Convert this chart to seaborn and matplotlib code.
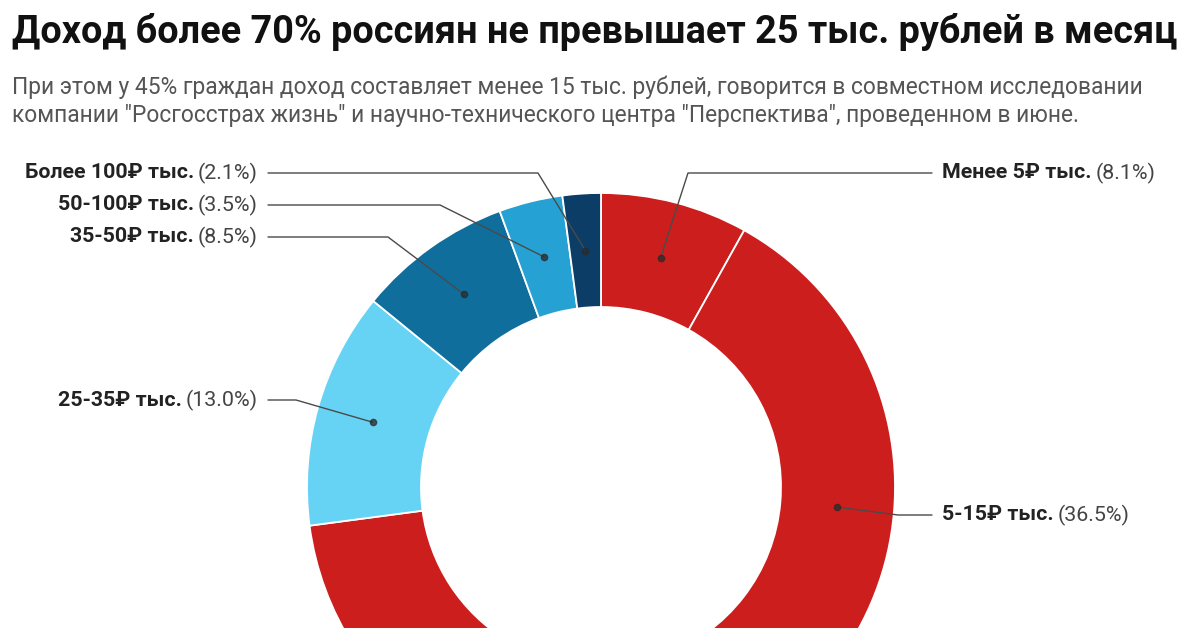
import matplotlib
matplotlib.use("Agg")
import matplotlib.pyplot as plt
import seaborn as sns
import numpy as np

# ---------------- data ----------------
categories = ["Менее 5₽ тыс.", "5-15₽ тыс.", "15-25₽ тыс.", "25-35₽ тыс.",
              "35-50₽ тыс.", "50-100₽ тыс.", "Более 100₽ тыс."]
shares = [8.1, 36.5, 28.3, 13.0, 8.5, 3.5, 2.1]
pct_labels = ["(8.1%)", "(36.5%)", "", "(13.0%)", "(8.5%)", "(3.5%)", "(2.1%)"]
colors = ["#cd1e1e", "#cd1e1e", "#cd1e1e", "#66d3f5", "#0f6e9c", "#25a2d3", "#0b3d66"]

title = "Доход более 70% россиян не превышает 25 тыс. рублей в месяц"
subtitle = ["При этом у 45% граждан доход составляет менее 15 тыс. рублей, говорится в совместном исследовании",
            "компании \"Росгосстрах жизнь\" и научно-технического центра \"Перспектива\", проведенном в июне."]

# label layout (pixel coords, origin top-left): side, text y, elbow point
label_layout = {
    "Менее 5₽ тыс.": ("right", 173, (688, 173)),
    "5-15₽ тыс.": ("right", 515, (898, 515)),
    "25-35₽ тыс.": ("left", 400, (296, 400)),
    "35-50₽ тыс.": ("left", 237, (388, 237)),
    "50-100₽ тыс.": ("left", 205, (440, 205)),
    "Более 100₽ тыс.": ("left", 173, (538, 173)),
}

# ---------------- style ----------------
sns.set_theme(style="white")
plt.rcParams["font.family"] = ["Roboto", "DejaVu Sans"]

W, H = 1200, 628
fig = plt.figure(figsize=(12, 6.28), dpi=100)
fig.patch.set_facecolor("white")
ax = fig.add_axes([0, 0, 1, 1])

cx, cy, R, ring = 601, 487, 294, 114
wedges, _ = ax.pie(shares, colors=colors, startangle=90, counterclock=False,
                   center=(cx, H - cy), radius=R,
                   wedgeprops=dict(width=ring, edgecolor="white", linewidth=1.3))
ax.set_xlim(0, W)
ax.set_ylim(0, H)
ax.set_aspect("equal")
ax.axis("off")

fig.canvas.draw()
renderer = fig.canvas.get_renderer()


def width_px(t):
    return t.get_window_extent(renderer=renderer).width


def fit_text(x, y, s, target_w, size0, **kw):
    t = ax.text(x, H - y, s, fontsize=size0, **kw)
    w = width_px(t)
    t.set_fontsize(size0 * target_w / w)
    return t


# title & subtitle
tt = fit_text(12, 43, title, 1168, 22, fontweight="bold", color="#111111",
              ha="left", va="baseline")
st = fit_text(12, 94, subtitle[0], 1134, 15, color="#555555", ha="left", va="baseline")
ax.text(12, H - 122, subtitle[1], fontsize=st.get_fontsize(), color="#555555",
        ha="left", va="baseline")

# label font size fitted to the widest left label
probe = ax.text(0, 0, "Более 100₽ тыс. (2.1%)", fontsize=13, fontweight="bold")
lab_fs = 13 * 236 / width_px(probe)
probe.remove()

mid_r = R - ring / 2
for w, cat, pct in zip(wedges, categories, pct_labels):
    if cat not in label_layout:
        continue
    side, ty, (ex, ey) = label_layout[cat]
    ang = np.deg2rad((w.theta1 + w.theta2) / 2)
    dx = cx + mid_r * np.cos(ang)
    dy = (H - cy) + mid_r * np.sin(ang)
    if side == "left":
        tn = ax.text(258, H - ty, pct, fontsize=lab_fs, color="#444444",
                     ha="right", va="center")
        wn = width_px(tn)
        ax.text(258 - wn - 4, H - ty, cat, fontsize=lab_fs, fontweight="bold",
                color="#222222", ha="right", va="center")
        lx0 = 268
    else:
        tb = ax.text(942, H - ty, cat, fontsize=lab_fs, fontweight="bold",
                     color="#222222", ha="left", va="center")
        wb = width_px(tb)
        ax.text(942 + wb + 4, H - ty, pct, fontsize=lab_fs, color="#444444",
                ha="left", va="center")
        lx0 = 932
    ax.plot([lx0, ex, dx], [H - ty, H - ey, dy], color="#4a4a4a", lw=1.0,
            solid_capstyle="round", zorder=5)
    ax.plot([dx], [dy], marker="o", ms=4.5, color="#2a2a2a", alpha=0.75, zorder=6)

fig.savefig("out.png", dpi=100, facecolor="white")
